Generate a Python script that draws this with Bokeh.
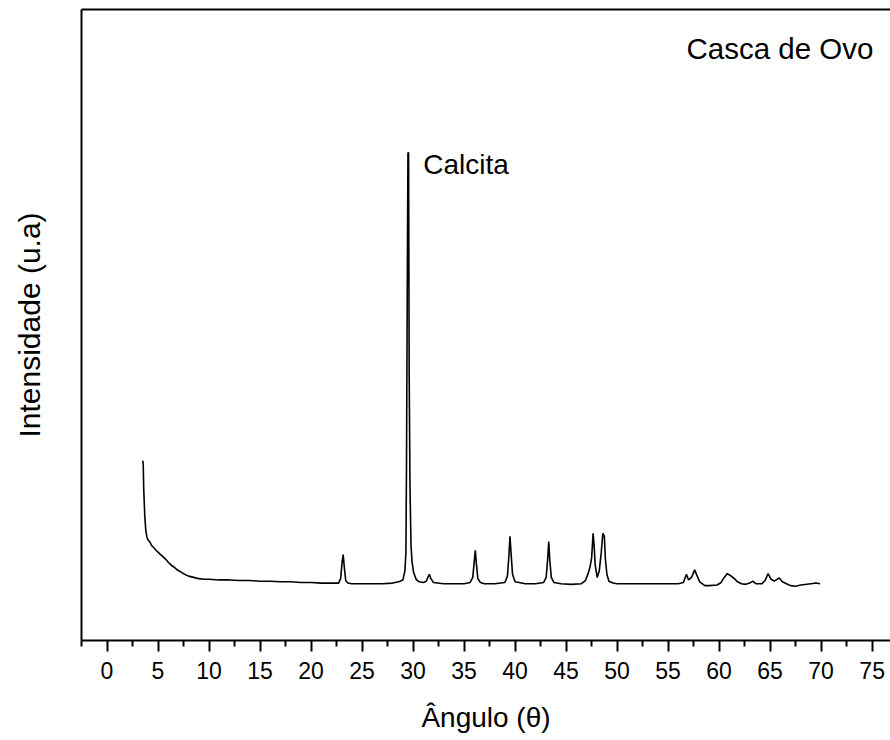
from bokeh.plotting import figure
from bokeh.models import LinearAxis, FixedTicker, Range1d, Label
from bokeh.embed import file_html
from bokeh.resources import INLINE

# XRD pattern (angle, intensity in arbitrary units)
angle = [3.5, 3.55, 3.6, 3.7, 3.8, 3.9, 4.0, 4.2, 4.4, 4.6, 4.8, 5.0, 5.2, 5.4, 5.6, 5.8,
         6.0, 6.2, 6.4, 6.6, 6.8, 7.0, 7.3, 7.6, 8.0, 8.5, 9.0, 9.5, 10, 11, 12, 13, 14,
         15, 16, 17, 18, 19, 20, 21, 22, 22.7, 22.9, 23.05, 23.15, 23.25, 23.4, 23.6, 24,
         25, 26, 27, 28, 28.6, 29.0, 29.2, 29.3, 29.36, 29.45, 29.5, 29.56, 29.62, 29.7,
         29.8, 29.9, 30.05, 30.3, 30.6, 31.0, 31.3, 31.45, 31.6, 31.75, 32.0, 33, 34, 35,
         35.6, 35.85, 36.0, 36.1, 36.2, 36.35, 36.6, 37, 38, 39.0, 39.25, 39.4, 39.5, 39.6,
         39.75, 40.0, 41, 42, 42.8, 43.05, 43.2, 43.3, 43.4, 43.55, 43.8, 44.5, 45.5, 46.5,
         46.9, 47.2, 47.35, 47.5, 47.65, 47.75, 47.85, 48.05, 48.25, 48.45, 48.6, 48.75,
         48.85, 49.0, 49.2, 49.6, 50, 51, 52, 53, 54, 55, 56, 56.5, 56.8, 57.0, 57.3, 57.6,
         57.8, 58.1, 58.6, 59, 59.8, 60.2, 60.5, 60.8, 61.1, 61.5, 61.8, 62.2, 62.6, 63.0,
         63.3, 63.6, 64.2, 64.5, 64.8, 65.1, 65.4, 65.6, 65.9, 66.2, 66.6, 67.0, 67.5, 68,
         69, 69.5, 69.9]
intensity = [285, 280, 240, 198, 175, 165, 160, 156, 150, 147, 143, 140, 137, 134, 131, 128,
             124, 121, 118, 116, 113, 111, 108, 105, 102, 100, 98, 97, 97, 96, 96, 95, 95,
             94, 94, 93, 93, 92, 92, 91, 91, 91, 98, 125, 136, 118, 95, 91, 90,
             90, 90, 90, 91, 93, 96, 110, 139, 285, 620, 773, 773, 420, 242,
             150, 125, 108, 97, 93, 92, 94, 100, 105, 98, 92, 90, 90, 90,
             92, 100, 125, 143, 123, 98, 92, 90, 90, 92, 102, 135, 165, 140,
             105, 93, 90, 90, 92, 100, 130, 157, 128, 100, 92, 90, 89, 90,
             95, 108, 117, 130, 170, 150, 120, 100, 110, 140, 170, 165,
             130, 105, 94, 91, 90, 90, 90, 90, 90, 90, 90, 92, 105, 96, 100, 112,
             104, 93, 87, 87, 88, 92, 100, 106, 103, 98, 93, 90, 89, 91,
             94, 90, 90, 95, 106, 97, 94, 96, 99, 93, 90, 87, 86, 88,
             90, 91, 90]

x_ticks = list(range(0, 80, 5))
x_minor = [t + 2.5 for t in range(-5, 80, 5)]

FONT = "Liberation Sans"

p = figure(width=890, height=740, output_backend="svg", toolbar_location=None,
           x_range=Range1d(-2.5, 76.8), y_range=Range1d(0, 1000),
           x_axis_location=None, y_axis_location=None,
           min_border_left=81, min_border_right=0, min_border_top=9, min_border_bottom=100)
p.grid.visible = False
p.outline_line_color = None
p.background_fill_color = "white"
p.border_fill_color = "white"

p.line(angle, intensity, line_color="black", line_width=1.6)

xa = LinearAxis(ticker=FixedTicker(ticks=x_ticks, minor_ticks=x_minor),
                axis_label="Ângulo (θ)")
xa.axis_line_width = 2
xa.major_tick_line_width = 2
xa.minor_tick_line_width = 2
xa.major_tick_out = 11
xa.major_tick_in = 0
xa.minor_tick_out = 6
xa.minor_tick_in = 0
xa.major_label_text_font = FONT
xa.major_label_text_font_size = "23px"
xa.major_label_text_color = "black"
xa.major_label_standoff = 10
xa.axis_label_text_font = FONT
xa.axis_label_text_font_size = "28px"
xa.axis_label_text_font_style = "normal"
xa.axis_label_text_color = "black"
xa.axis_label_standoff = 20
p.add_layout(xa, "below")

ya = LinearAxis(ticker=FixedTicker(ticks=[]), axis_label="Intensidade (u.a)")
ya.axis_line_width = 2
ya.major_tick_line_color = None
ya.minor_tick_line_color = None
ya.axis_label_text_font = FONT
ya.axis_label_text_font_size = "30px"
ya.axis_label_text_font_style = "normal"
ya.axis_label_text_color = "black"
ya.axis_label_standoff = 36
p.add_layout(ya, "left")

ta = LinearAxis(ticker=FixedTicker(ticks=[]))
ta.axis_line_width = 2
ta.major_tick_line_color = None
ta.minor_tick_line_color = None
p.add_layout(ta, "above")

p.add_layout(Label(x=31.0, y=755, text="Calcita", text_font=FONT, text_font_size="28px",
                   text_color="black", text_baseline="alphabetic"))
p.add_layout(Label(x=56.8, y=938, text="Casca de Ovo", text_font=FONT, text_font_size="29.5px",
                   text_color="black", text_baseline="alphabetic"))

open("out.html", "w").write(file_html(p, INLINE))
